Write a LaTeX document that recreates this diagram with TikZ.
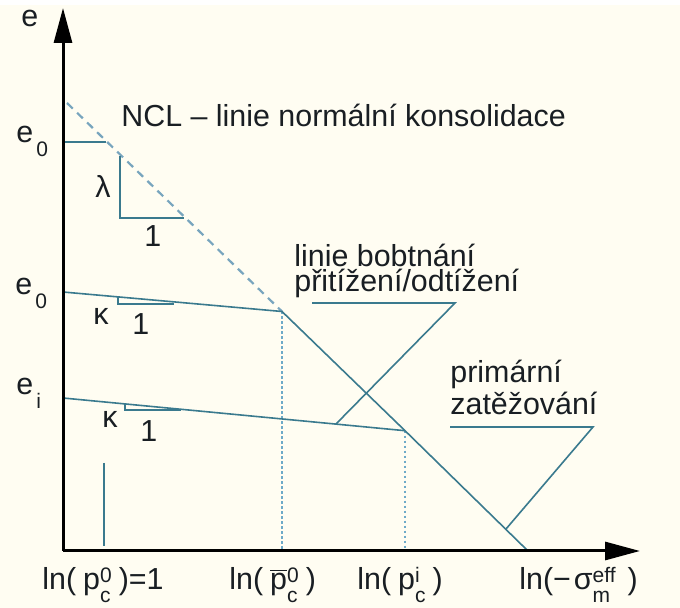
\documentclass[tikz,border=0pt]{standalone}
\usepackage{fontspec}
\setmainfont{Liberation Sans}
\usetikzlibrary{arrows.meta}
\definecolor{bg}{RGB}{255,253,242}
\definecolor{lnc}{RGB}{58,122,142}
\definecolor{dotc}{RGB}{110,170,200}
\definecolor{nclc}{RGB}{120,165,190}
\definecolor{txt}{RGB}{25,30,35}
\newcommand\lsub[1]{\hspace{1.5pt}\raisebox{-7pt}{\fontsize{10.5}{12}\selectfont #1}}
\newcommand\lss[2]{\begingroup\fontsize{10.5}{12}\selectfont
  \setbox0\hbox{#1}\setbox2\hbox{#2}%
  \ifdim\wd0>\wd2 \dimen0=\wd0 \else \dimen0=\wd2 \fi
  \makebox[\dimen0][l]{\rlap{\raisebox{3.5pt}{#1}}\raisebox{-6pt}{#2}}\endgroup}
\begin{document}
\begin{tikzpicture}[x=0.5pt,y=-0.5pt,
  lbl/.style={font=\fontsize{15.2}{18}\selectfont, inner sep=0, text=txt, anchor=base west},
  axis/.style={line width=1.5pt, black, -{Triangle[length=17.5pt,width=9pt]}},
  thin/.style={line width=0.8pt, lnc},
  nclline/.style={line width=1.1pt, nclc, dash pattern=on 4pt off 3pt},
  dotline/.style={line width=1.4pt, dotc, dash pattern=on 1.2pt off 1.3pt}]
% background
\fill[white] (0,0) rectangle (680,608);
\fill[bg] (0,5) rectangle (680,608);
\useasboundingbox (0,0) rectangle (680,608);
% key points
\coordinate (O) at (63,551);
\coordinate (Ytip) at (63,8);
\coordinate (Xtip) at (640,551);
\coordinate (A) at (67,103);
\coordinate (K1) at (282,311.5);
\coordinate (K2) at (405,430.7);
\coordinate (E) at (528,551);
\coordinate (S1) at (63,292);
\coordinate (S2) at (63,398);
\coordinate (B1) at (282,550);
\coordinate (B2) at (405,550);
% dotted verticals
\draw[dotline] (K1) -- (B1);
\draw[dotline] (K2) -- (B2);
% NCL dashed
\draw[nclline] (A) -- (K1);
% primary loading
\draw[thin] (K1) -- (K2) -- (E);
% swelling lines
\draw[thin] (S1) -- (K1);
\draw[thin] (S2) -- (K2);
% e0 tick
\coordinate (T0a) at (63,142);
\coordinate (T0b) at (106,142);
\draw[thin] (T0a) -- (T0b);
% lambda triangle
\coordinate (La) at (120,156);
\coordinate (Lb) at (120,218);
\coordinate (Lc) at (184,218);
\draw[thin] (La) -- (Lb) -- (Lc);
% kappa triangles
\coordinate (Ka1) at (118,297);
\coordinate (Kb1) at (118,304);
\coordinate (Kc1) at (174,304);
\draw[thin] (Ka1) -- (Kb1) -- (Kc1);
\coordinate (Ka2) at (125,404);
\coordinate (Kb2) at (125,410);
\coordinate (Kc2) at (181,410);
\draw[thin] (Ka2) -- (Kb2) -- (Kc2);
% small vertical line
\coordinate (Va) at (104,463);
\coordinate (Vb) at (104,546);
\draw[thin] (Va) -- (Vb);
% leaders
\coordinate (Ba) at (312,303);
\coordinate (Bb) at (455,303);
\coordinate (Bc) at (336,424);
\draw[thin] (Ba) -- (Bb) -- (Bc);
\coordinate (Pa) at (450,427);
\coordinate (Pb) at (593,427);
\coordinate (Pc) at (506,529);
\draw[thin] (Pa) -- (Pb) -- (Pc);
% axes
\draw[axis] (O) -- (Ytip);
\draw[axis] (O) -- (Xtip);
% labels
\node[lbl] (le) at (21,27) {e};
\node[lbl] (le0) at (16,143) {e\lsub{0}};
\node[lbl] (lbe0) at (15,295) {e\lsub{0}};
\node[lbl] (lei) at (16,395) {e\lsub{i}};
\node[lbl] (llam) at (95,198) {λ};
\node[lbl] (llam1) at (144,247) {1};
\node[lbl] (lk1) at (93,325) {κ};
\node[lbl] (lk11) at (132,335) {1};
\node[lbl] (lk2) at (102,428) {κ};
\node[lbl] (lk21) at (140,442) {1};
\node[lbl] (ncl) at (121,127) {NCL – linie normální konsolidace};
\node[lbl] (bob1) at (294,267) {linie bobtnání};
\node[lbl] (bob2) at (294,292) {přitížení/odtížení};
\node[lbl] (pri1) at (450,383) {primární};
\node[lbl] (pri2) at (450,415) {zatěžování};
\node[lbl] (x1) at (42,590) {ln(\hspace{3.5pt}p\lss{0}{c}\hspace{3.5pt})=1};
\node[lbl] (x2) at (229,590) {ln(\hspace{3.5pt}\ensuremath{\overline{\hbox{p}}}\lss{0}{c}\hspace{3.5pt})};
\node[lbl] (x3) at (357,590) {ln(\hspace{3.5pt}p\lss{i}{c}\hspace{3.5pt})};
\node[lbl] (x4) at (519,590) {ln(−\hspace{1.5pt}σ\lss{eff}{m}\hspace{6pt})};
\end{tikzpicture}
\end{document}
